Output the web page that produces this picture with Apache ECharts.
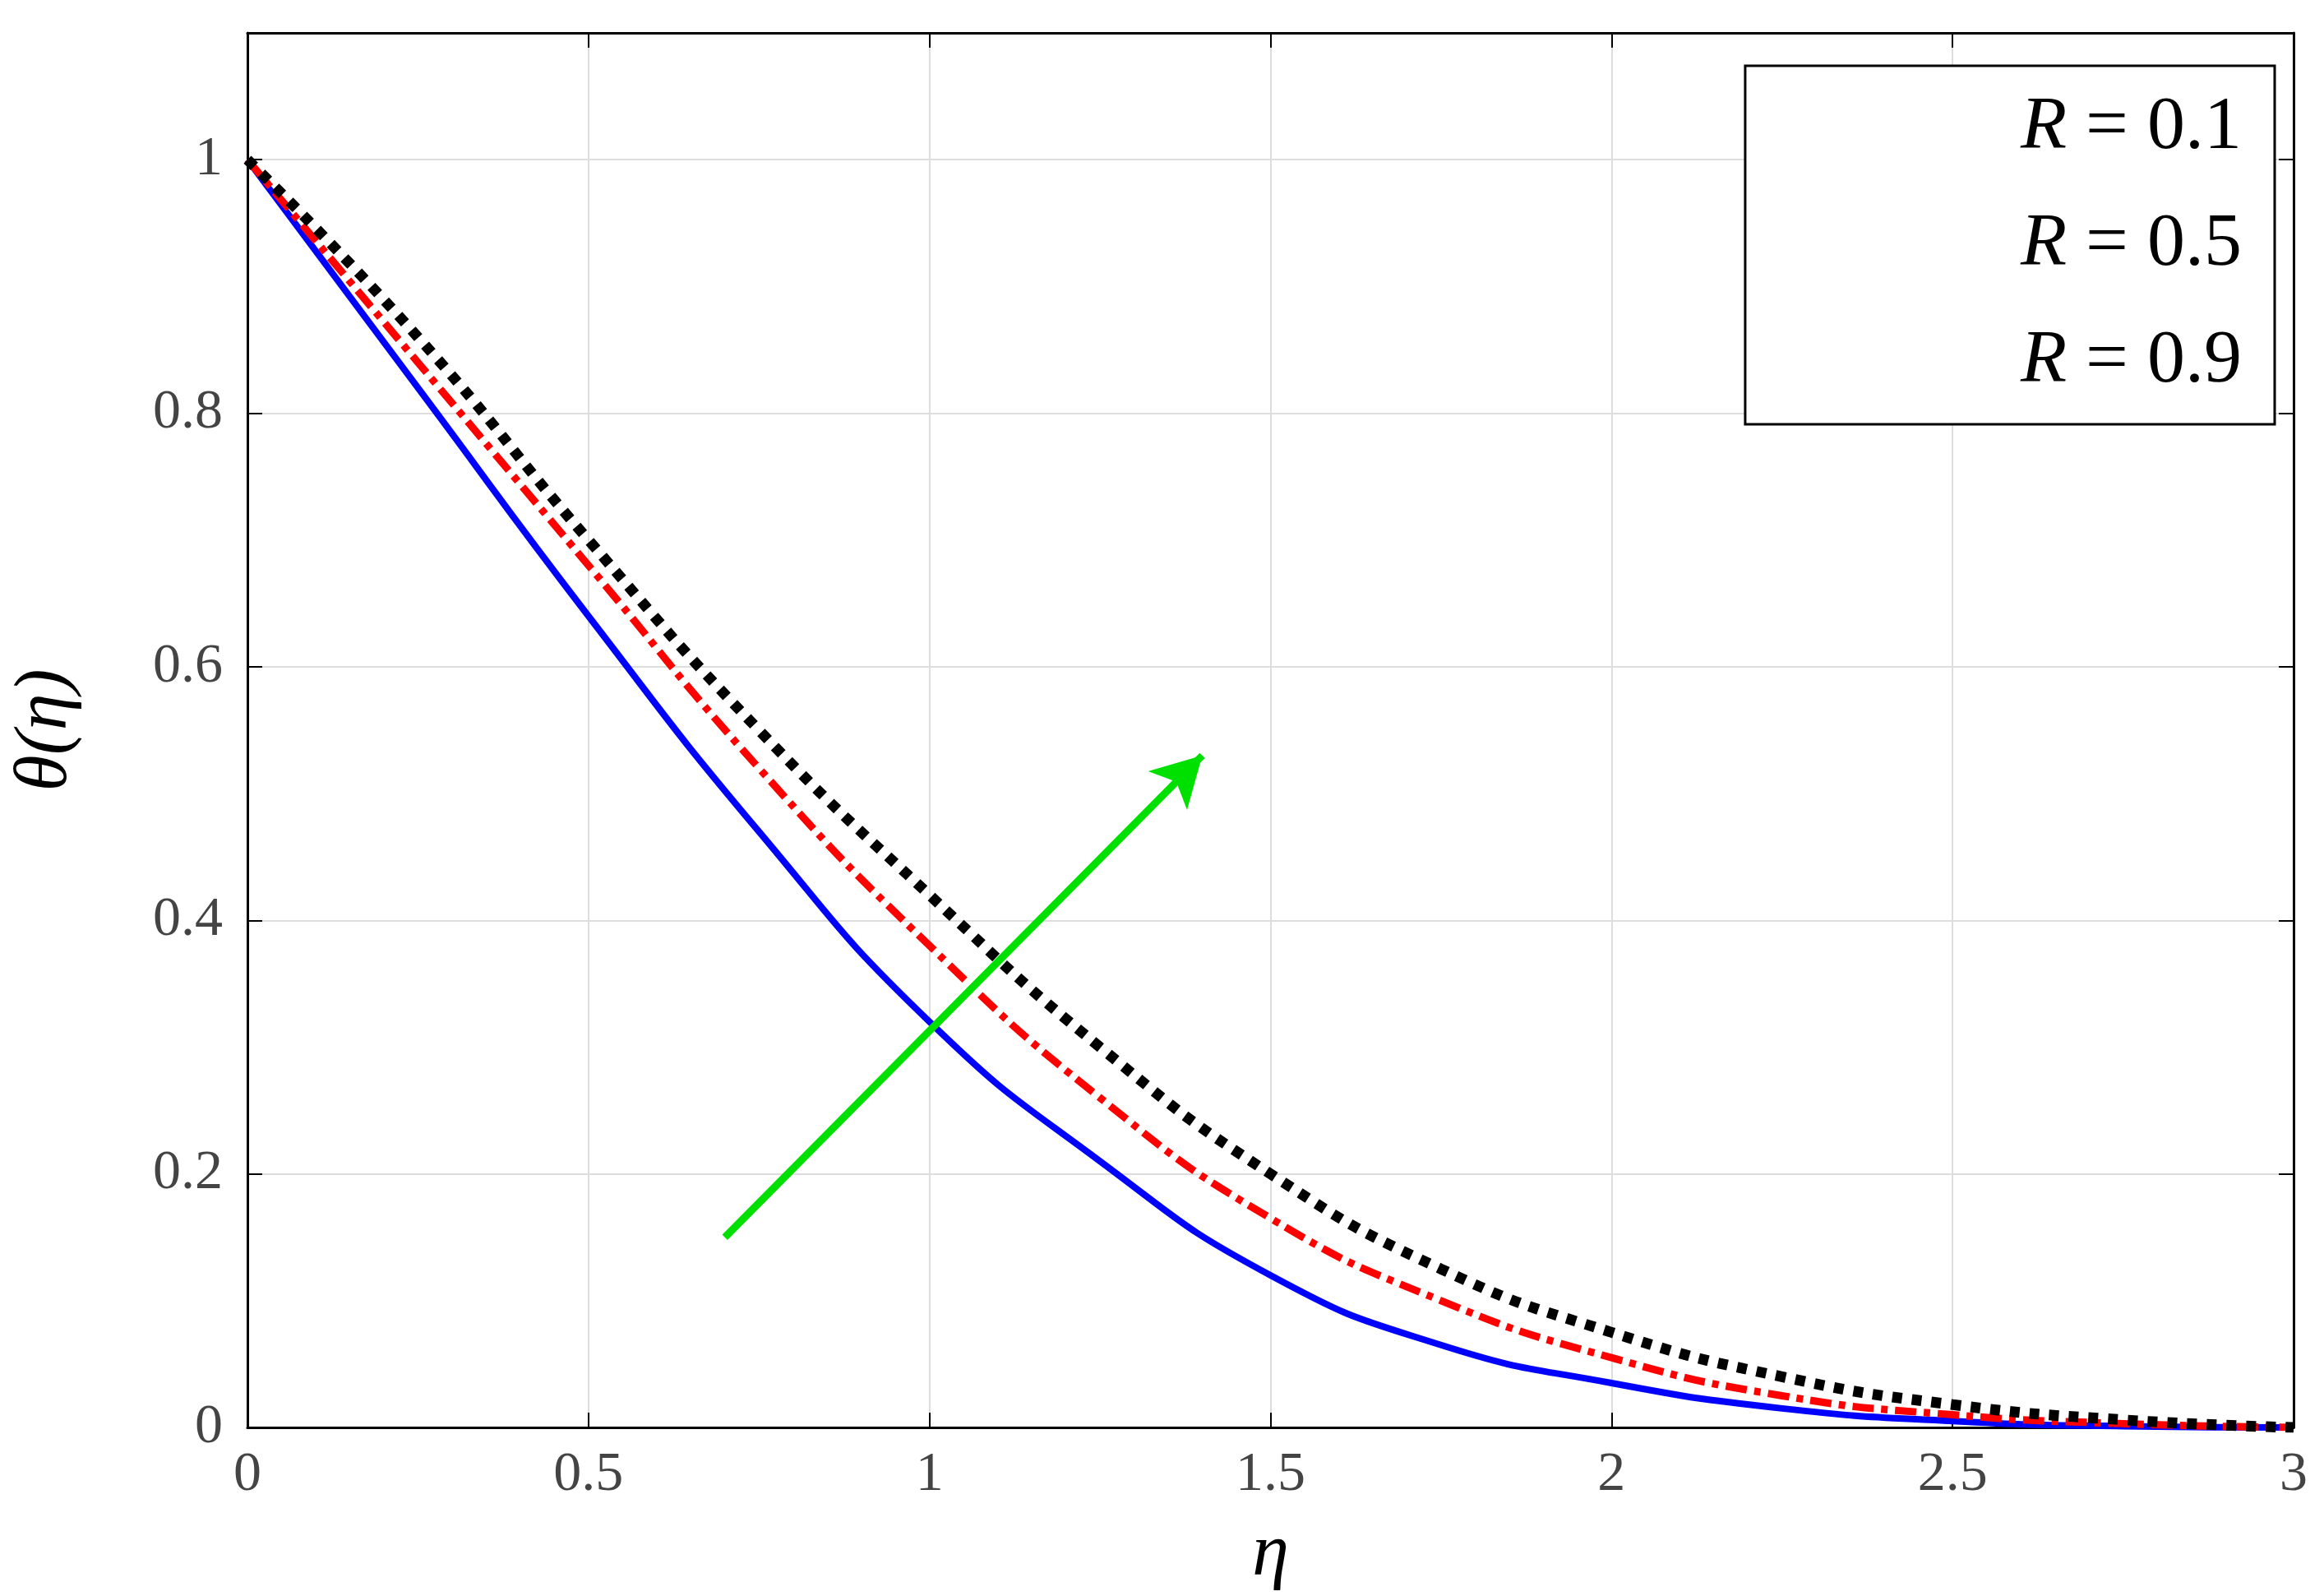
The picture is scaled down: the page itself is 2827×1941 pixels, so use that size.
<!DOCTYPE html><html><head><meta charset="utf-8">
<script src="https://cdn.jsdelivr.net/npm/echarts@6/dist/echarts.min.js"></script>
<style>html,body{margin:0;background:#fff}#c{width:2827px;height:1941px}</style></head><body><div id="c"></div>
<script>
const etaX=[0,0.25,0.5,0.75,1,1.25,1.5,1.75,2,2.25,2.5,2.75,3];
const r01=[1,0.82,0.64,0.47,0.32,0.21,0.12,0.065,0.035,0.015,0.005,0.001,0];
const r05=[1,0.84,0.68,0.52,0.38,0.26,0.165,0.10,0.055,0.025,0.01,0.003,0];
const r09=[1,0.86,0.70,0.55,0.42,0.30,0.20,0.125,0.075,0.04,0.018,0.006,0];
const arrowPts=[[0.7,0.15],[1.4,0.53]];
const pair=a=>etaX.map((x,i)=>[x,a[i]]);
const F='Liberation Serif';
const lab={color:'#444',fontFamily:F,fontSize:68,formatter:v=>String(+v.toFixed(1))};
const AL={show:true,onZero:false,lineStyle:{color:'#000',width:3}};
const TK={inside:true,length:18,lineStyle:{color:'#000',width:2}};
const blueLS={color:'#0000ff',width:8};
const redLS={color:'#ff0000',width:9,type:[26,9,8,9]};
const blackLS={color:'#000',width:13,type:[12,12]};
const ch=echarts.init(document.getElementById('c'));
ch.setOption({
 animation:false,
 grid:{left:301,right:37,top:40,bottom:190},
 xAxis:[{type:'value',min:0,max:3,interval:0.5,axisLine:AL,axisTick:TK,
   axisLabel:Object.assign({margin:24},lab),splitLine:{lineStyle:{color:'#ddd',width:2}},
   name:'η',nameLocation:'middle',nameGap:110,nameTextStyle:{fontFamily:F,fontStyle:'italic',fontSize:90,color:'#000'}},
  {type:'value',position:'top',min:0,max:3,interval:0.5,axisLine:AL,axisTick:TK,axisLabel:{show:false},splitLine:{show:false}}],
 yAxis:[{type:'value',min:0,max:1.1,interval:0.2,axisLine:AL,axisTick:TK,
   axisLabel:Object.assign({margin:30,showMaxLabel:false},lab),splitLine:{lineStyle:{color:'#ddd',width:2}},
   name:'θ(η)',nameLocation:'middle',nameGap:200,nameTextStyle:{fontFamily:F,fontStyle:'italic',fontSize:90,color:'#000'}},
  {type:'value',position:'right',min:0,max:1.1,interval:0.2,axisLine:AL,axisTick:TK,axisLabel:{show:false},splitLine:{show:false}}],
 legend:{right:60,top:80,orient:'vertical',itemWidth:260,itemHeight:20,itemGap:50,padding:[30,40,30,70],
   borderColor:'#000',borderWidth:3,backgroundColor:'#fff',
   textStyle:{fontFamily:F,fontSize:92,color:'#000',rich:{i:{fontStyle:'italic',fontSize:92,fontFamily:F}}},
   formatter:n=>'{i|R} = '+n.split('=')[1].trim(),
   data:[{name:'R = 0.1',icon:'none',lineStyle:blueLS},{name:'R = 0.5',icon:'none',lineStyle:redLS},{name:'R = 0.9',icon:'none',lineStyle:blackLS}]},
 series:[
  {name:'R = 0.1',type:'line',smooth:true,symbol:'none',data:pair(r01),lineStyle:blueLS,itemStyle:{color:'#0000ff'}},
  {name:'R = 0.5',type:'line',smooth:true,symbol:'none',data:pair(r05),lineStyle:redLS,itemStyle:{color:'#ff0000'}},
  {name:'R = 0.9',type:'line',smooth:true,symbol:'none',data:pair(r09),lineStyle:blackLS,itemStyle:{color:'#000'},
   markLine:{silent:true,symbol:['none','arrow'],symbolSize:[50,60],label:{show:false},
    lineStyle:{color:'#00e000',width:9,type:'solid'},
    data:[[{coord:arrowPts[0]},{coord:arrowPts[1]}]]}}
 ]
});
</script></body></html>
